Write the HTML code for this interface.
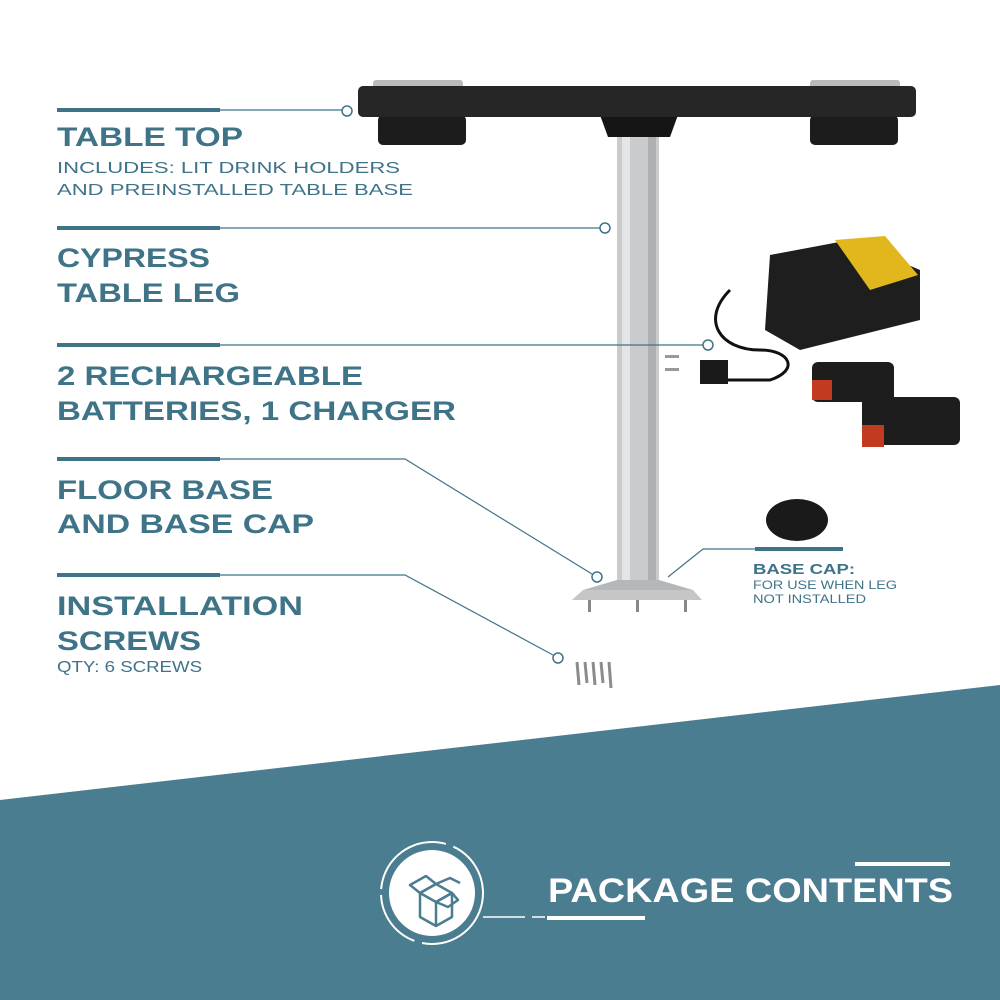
<!DOCTYPE html>
<html><head><meta charset="utf-8"><style>html,body{margin:0;padding:0;background:#fff}svg{display:block}</style></head>
<body>
<svg width="1000" height="1000" viewBox="0 0 1000 1000" xmlns="http://www.w3.org/2000/svg" font-family="Liberation Sans, sans-serif">
<rect width="1000" height="1000" fill="#fff"/>
<polygon points="0,800 1000,685 1000,1000 0,1000" fill="#4b7d90"/>
<!-- leg -->
<rect x="617" y="135" width="42" height="450" fill="#c9cbcd"/>
<rect x="622" y="135" width="8" height="450" fill="#e4e5e6"/>
<rect x="648" y="135" width="8" height="450" fill="#aeb0b2"/>
<polygon points="583,590 693,590 702,600 572,600" fill="#c4c6c8"/>
<polygon points="617,580 659,580 693,590 583,590" fill="#b5b7b9"/>
<rect x="588" y="600" width="3" height="12" fill="#888"/><rect x="636" y="600" width="3" height="12" fill="#888"/><rect x="684" y="600" width="3" height="12" fill="#888"/>
<!-- table top -->
<rect x="373" y="80" width="90" height="8" rx="3" fill="#bbb"/><rect x="810" y="80" width="90" height="8" rx="3" fill="#bbb"/>
<rect x="378" y="115" width="88" height="30" rx="5" fill="#1c1c1c"/>
<rect x="810" y="115" width="88" height="30" rx="5" fill="#1c1c1c"/>
<polygon points="600,115 678,115 670,137 608,137" fill="#151515"/>
<rect x="358" y="86" width="558" height="31" rx="5" fill="#262626"/>
<!-- charger -->
<path d="M730,290 C700,320 720,350 760,350 C790,350 800,370 770,380 L720,380" fill="none" stroke="#111" stroke-width="3"/>
<rect x="700" y="360" width="28" height="24" fill="#1a1a1a"/>
<rect x="665" y="355" width="14" height="3" fill="#999"/><rect x="665" y="368" width="14" height="3" fill="#999"/>
<polygon points="770,255 850,240 920,270 920,320 800,350 765,330" fill="#1e1e1e"/>
<polygon points="835,240 885,236 918,275 870,290" fill="#e2b71e"/>
<rect x="812" y="362" width="82" height="40" rx="6" fill="#1d1d1d"/>
<rect x="812" y="380" width="20" height="20" fill="#c23a20"/>
<rect x="862" y="397" width="98" height="48" rx="6" fill="#1d1d1d"/>
<rect x="862" y="425" width="22" height="22" fill="#c23a20"/>
<ellipse cx="797" cy="520" rx="31" ry="21" fill="#1a1a1a"/>
<!-- screws -->
<g stroke="#8a8c8e" stroke-width="3"><line x1="577" y1="662" x2="579" y2="685"/><line x1="585" y1="662" x2="587" y2="683"/><line x1="593" y1="662" x2="595" y2="685"/><line x1="601" y1="662" x2="603" y2="683"/><line x1="609" y1="662" x2="611" y2="688"/></g>
<!-- connectors -->
<g fill="none" stroke="#3f7388">
<g stroke-width="4"><line x1="57" y1="110" x2="220" y2="110"/><line x1="57" y1="228" x2="220" y2="228"/><line x1="57" y1="345" x2="220" y2="345"/><line x1="57" y1="459" x2="220" y2="459"/><line x1="57" y1="575" x2="220" y2="575"/><line x1="755" y1="549" x2="843" y2="549"/></g>
<g stroke-width="1.2"><line x1="220" y1="110" x2="342" y2="110"/><line x1="220" y1="228" x2="600" y2="228"/><line x1="220" y1="345" x2="703" y2="345"/><polyline points="220,459 405,459 592,574"/><polyline points="220,575 405,575 553,655"/><polyline points="755,549 703,549 668,577"/></g>
<g stroke-width="1.5"><circle cx="347" cy="111" r="5"/><circle cx="605" cy="228" r="5"/><circle cx="708" cy="345" r="5"/><circle cx="597" cy="577" r="5"/><circle cx="558" cy="658" r="5"/></g>
</g>
<g fill="#3f7388">
<g font-weight="bold" font-size="27">
<text x="57" y="146" textLength="186" lengthAdjust="spacingAndGlyphs">TABLE TOP</text>
<text x="57" y="267" textLength="153" lengthAdjust="spacingAndGlyphs">CYPRESS</text>
<text x="57" y="302" textLength="183" lengthAdjust="spacingAndGlyphs">TABLE LEG</text>
<text x="57" y="385" textLength="306" lengthAdjust="spacingAndGlyphs">2 RECHARGEABLE</text>
<text x="57" y="420" textLength="399" lengthAdjust="spacingAndGlyphs">BATTERIES, 1 CHARGER</text>
<text x="57" y="499" textLength="216" lengthAdjust="spacingAndGlyphs">FLOOR BASE</text>
<text x="57" y="533" textLength="257" lengthAdjust="spacingAndGlyphs">AND BASE CAP</text>
<text x="57" y="615" textLength="246" lengthAdjust="spacingAndGlyphs">INSTALLATION</text>
<text x="57" y="650" textLength="144" lengthAdjust="spacingAndGlyphs">SCREWS</text>
</g>
<g font-size="16">
<text x="57" y="173" textLength="343" lengthAdjust="spacingAndGlyphs">INCLUDES: LIT DRINK HOLDERS</text>
<text x="57" y="195" textLength="356" lengthAdjust="spacingAndGlyphs">AND PREINSTALLED TABLE BASE</text>
<text x="57" y="672" textLength="145" lengthAdjust="spacingAndGlyphs">QTY: 6 SCREWS</text>
</g>
<text x="753" y="574" font-size="15" font-weight="bold" textLength="102" lengthAdjust="spacingAndGlyphs">BASE CAP:</text>
<text x="753" y="589" font-size="12" textLength="144" lengthAdjust="spacingAndGlyphs">FOR USE WHEN LEG</text>
<text x="753" y="603" font-size="12" textLength="113" lengthAdjust="spacingAndGlyphs">NOT INSTALLED</text>
</g>
<!-- package contents -->
<circle cx="432" cy="893" r="43" fill="#fff"/>
<circle cx="432" cy="893" r="51" fill="none" stroke="#fff" stroke-width="2" stroke-dasharray="90 8 60 6"/>
<g fill="none" stroke="#4b7d90" stroke-width="2.5" stroke-linejoin="round">
<polygon points="420,893 436,884 452,893 436,902"/><polyline points="420,893 420,917 436,926 452,917 452,893"/><line x1="436" y1="902" x2="436" y2="926"/>
<polygon points="420,893 410,885 426,876 436,884"/><polygon points="452,893 458,900 448,907 436,902"/><polyline points="436,884 450,878 460,883"/>
</g>
<g stroke="#fff"><line x1="483" y1="917" x2="525" y2="917" stroke-width="1.5"/><line x1="532" y1="917" x2="545" y2="917" stroke-width="1.5"/><line x1="547" y1="918" x2="645" y2="918" stroke-width="4"/><line x1="855" y1="864" x2="950" y2="864" stroke-width="4"/></g>
<text x="548" y="902" fill="#fff" font-size="34" font-weight="bold" textLength="405" lengthAdjust="spacingAndGlyphs">PACKAGE CONTENTS</text>
</svg>
</body></html>
